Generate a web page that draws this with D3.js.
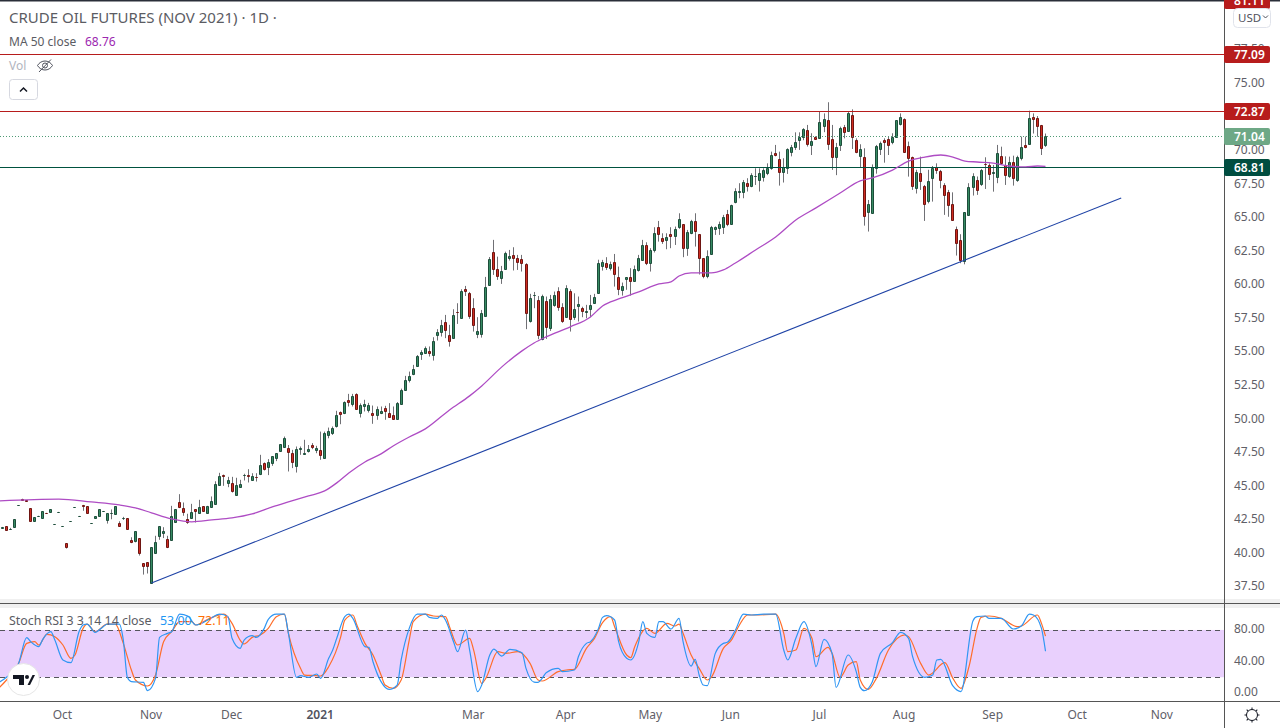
<!DOCTYPE html>
<html>
<head>
<meta charset="utf-8">
<title>Crude Oil Futures</title>
<script src="https://cdn.jsdelivr.net/npm/d3@7"></script>
<style>
  html, body { margin: 0; padding: 0; background: #fff; overflow: hidden; }
  text { font-family: "Noto Sans", sans-serif; }
</style>
</head>
<body>
<svg id="chart" width="1280" height="728"></svg>
<script>
// daily candles, 10 per row
var opens = [
  41.85,41.95,41.73,41.93,43.5,43.98,43.88,43.29,42.37,42.7,
  42.6,42.93,43.04,42.1,43,41.95,40.69,42.32,43.36,42.7,
  43.52,43.44,42.17,42.6,42.7,43.07,42.45,42.9,42.84,42.17,
  42.53,42.55,40.91,40.83,41.06,39.2,39.27,37.71,39.99,41.26,
  41.42,41.02,40.89,42.26,43.74,43.3,42.5,42.6,43.22,42.93,
  43.44,42.97,43.42,43.6,45.01,45.76,45.2,45.16,44.27,44.91,
  45.74,45.76,45.43,45.62,45.81,46.65,46.35,46.65,47.02,47.54,
  47.86,47.81,47.39,46.47,47.67,47.32,47.52,47.99,47.64,47.62,
  47.02,48.71,48.91,49.38,50.45,50.35,51.34,51.07,51.81,50.42,
  50.94,50.62,50.4,50.2,50.35,50.77,50.37,50.22,49.93,51.02,
  52.13,52.85,53.32,53.92,54.81,54.86,54.99,54.67,56.23,56.45,
  57.15,56.18,56,57.92,57.49,59.6,59.31,58.19,56.3,56.3,
  57.64,59.9,62.36,61.09,60.47,61.09,61.96,62.13,61.91,61.84,
  61.46,57.2,59.14,58.78,55.93,58.71,56.7,58.46,59.45,58.26,
  57.57,59.45,57.57,58.39,58.21,57.87,58.11,58.59,59.3,61.32,
  61.54,61.19,61.61,60.55,59.51,60.33,60.5,60.25,61.07,61.79,
  62.88,61.52,62.53,64.22,63.45,63.3,63.7,63.6,64.22,64.44,
  62.66,63.82,64.67,63.7,61.91,60.62,62.19,64.12,64.15,64.27,
  65.19,64.49,66.13,66.83,66.88,67.5,67.32,68.0,67.77,67.97,
  68.29,68.64,69.75,69.28,68.37,68.66,69.85,70.18,70.75,70.92,
  71.44,70.38,70.92,70.84,71.76,72.21,70.77,69.48,70.37,71.71,
  71.41,72.56,70.74,69.55,69.43,65.39,65.31,68.66,70.08,70.7,
  70.77,70.6,70.97,71.94,72.26,70.25,69.43,67.17,68.24,67.27,
  66.2,67.87,68.71,68.39,67.37,66.82,65.93,64.09,63.25,61.71,
  65.16,67.25,67.72,67.42,68.92,68.83,68.29,67.94,69.5,68.88,
  68.07,69.06,67.72,69.36,70.32,70.45,72.41,72.33,71.81,70.35
];
var highs = [
  41.9,41.95,41.83,42.47,43.53,44,43.9,43.29,42.62,42.73,
  43.07,42.95,43.22,42.12,43.02,41.97,40.69,42.34,43.38,42.72,
  43.54,43.44,42.19,42.7,43.22,43.09,42.92,43.2,43.44,42.32,
  42.65,42.55,41.13,41.58,41.06,39.2,39.27,40.39,41.24,41.95,
  41.88,41.24,43.47,43.22,44.34,43.72,42.88,43.62,43.22,43.92,
  43.44,43.47,44.17,45.3,45.93,45.8,45.63,45.63,45.56,45.41,
  45.86,46.2,45.9,45.9,47.27,46.7,46.95,47.17,47.39,48.06,
  48.63,48,47.64,47.89,47.89,48.39,48,48.14,47.94,49,
  49,49.3,49.38,50.55,50.5,51.25,51.81,51.81,51.85,51.1,
  51.37,51.14,50.94,50.87,50.87,50.92,51.12,50.87,51.2,52.2,
  53.15,53.47,53.97,54.7,55.06,55.34,55.34,56.03,56.63,57.32,
  57.69,56.95,58.11,58.56,59.6,59.85,59.4,58.93,57.52,58.06,
  60.52,62,63.28,62.03,61.34,62.4,62.53,62.73,62.16,62.16,
  61.54,59.26,59.4,59.1,59.2,59.06,59.18,59.43,59.75,58.56,
  59.9,59.6,59.3,59.06,58.3,58.44,59.18,59.26,61.8,61.79,
  61.99,61.66,62.23,61.29,60.1,60.5,61.17,61.37,62.16,63.28,
  63.1,62.66,64.22,64.69,63.77,63.77,64.22,64.27,65.26,64.44,
  64.02,64.77,65.26,63.7,61.91,62.5,64.32,64.28,64.64,65.14,
  65.51,65.9,67.12,67.5,67.74,67.87,68.24,68.61,68.61,68.61,
  68.98,69.85,70.35,69.85,69.36,70.1,70.35,71.29,71.29,71.6,
  71.84,71.22,71.0,72.83,72.7,73.53,71.84,70.5,71.71,71.84,
  72.8,73,70.84,70.4,70.1,66.25,68.9,70.35,70.6,70.84,
  70.97,71.22,72.2,72.7,72.33,70.6,69.48,68.5,69.48,67.37,
  68.5,68.78,68.98,68.49,67.5,67,66.82,64.27,63.7,65.34,
  67.5,68.24,68,68.56,69.43,68.98,68.86,70.35,70.22,69.5,
  69.48,69.55,69.55,70.97,70.97,72.9,72.7,72.5,71.84,71.2
];
var lows = [
  41.85,41.7,41.7,41.93,43.5,43.88,43.82,42.37,42.37,42.7,
  42.6,42.9,43.04,42.08,42.98,41.93,40.29,42.3,43.34,42.68,
  43.1,42.97,42.15,42.6,42.7,43.05,42.15,42.47,42.84,41.9,
  42.42,41.7,40.69,40.75,39.77,38.35,38.43,37.71,39.99,40.94,
  41.07,40.32,40.89,42.26,43.3,42.73,42.13,42.6,42.23,42.88,
  43.08,42.97,43.42,43.6,45.01,44.96,44.86,44.46,44.22,44.86,
  45.36,45.21,45.36,45.28,45.76,46.1,45.76,46.45,46.8,47.54,
  47.86,46.03,46.28,45.95,47.27,47.27,47.44,47.69,47.39,46.9,
  46.97,48.5,48.75,49.3,49.55,50.3,50.87,50.87,50.65,50.05,
  50.5,50.42,49.58,49.88,50.3,49.88,50.05,49.88,49.93,51.02,
  52.06,52.66,53.2,53.92,54.34,54.79,54.59,54.29,55.78,56.08,
  55.96,55.33,55.96,57.02,57.49,59.1,57.4,56.45,55.96,56,
  57.64,59.9,60.67,60.3,60,61.09,61.74,61,61.04,60.92,
  56.63,57.12,58.19,55.88,55.8,55.9,56.5,58.3,58,57.1,
  57.57,56.45,57.32,57.2,57.52,57.44,57.52,58.51,59.3,60.99,
  61.04,61,59.8,59.16,59.13,59.56,59.13,60.2,60.92,61.79,
  61.4,60.92,62.34,63.15,62.98,62.58,62.66,62.9,64.1,61.99,
  62.09,63.7,62.78,60.7,60.42,60.42,62.19,63.65,63.65,63.72,
  64.3,64.49,66,66.38,66.38,66.88,67.2,67.37,66.88,67.62,
  68.1,68.5,69.5,67.32,67.55,68.19,69.5,69.98,69.98,70.7,
  70.23,69.6,70.8,70.84,71.3,69.98,68.49,68.1,69.9,70.84,
  71.41,70.05,69.73,68.66,64.34,63.9,65.3,68.21,69.6,69.03,
  69.6,70.4,70.97,71.8,69.8,67.99,67,66.73,67,64.69,
  66,66.13,68.2,67.12,65.14,65,64.7,62.11,61.54,61.46,
  65.1,66.58,66.63,67.3,67.07,67.74,66.87,67.5,68.9,67.37,
  67.9,67.32,67.6,69.2,70.1,70.45,71.2,70.97,69.6,70.2
];
var closes = [
  41.88,41.7,41.75,42.47,43.52,43.9,43.85,42.37,42.62,42.72,
  43.07,42.9,43.22,42.12,43.02,41.97,40.44,42.34,43.38,42.72,
  43.48,42.97,42.19,42.7,43.22,43.09,42.92,42.93,43.44,42,
  42.57,41.78,40.81,41.58,39.99,39.02,39.02,40.39,40.76,41.95,
  41.59,40.37,42.68,43.22,43.37,43.03,42.23,43,43.05,43.37,
  43.1,43.47,43.82,45.09,45.68,45.66,45.38,44.61,45.01,45.11,
  45.76,45.66,45.68,45.6,46.5,46.23,46.72,47.17,47.39,48.06,
  48.53,47.47,46.7,47.69,47.79,47.39,47.69,47.84,47.81,47.29,
  48.88,49.06,49.25,50.25,50.32,51.19,51.24,51.66,50.7,50.99,
  51.07,50.99,50.27,50.67,50.52,50.57,50.12,49.95,51.12,52.08,
  52.83,53.15,53.65,54.62,54.94,55.21,54.89,55.73,56.4,56.92,
  56.53,55.78,57.67,57.87,59.48,59.5,57.64,56.97,56.48,57.82,
  59.75,61.84,61.14,60.62,60.94,62.28,62.08,61.96,61.66,61.59,
  57.82,58.93,59.16,56.23,59.08,56.77,58.86,59.16,58.31,57.27,
  59.68,57.37,58.11,58.49,58.01,58,58.41,59.01,61.54,61.61,
  61.29,61.46,60.77,59.65,59.85,60.5,60.25,61.09,61.91,62.88,
  61.52,62.51,63.77,63.72,63.18,63.48,63.6,64.07,64.82,62.66,
  63.85,64.67,63.97,61.91,60.62,62.06,64.25,64.25,64.44,64.99,
  64.44,65.86,66.9,66.93,67.6,67.32,68.09,68.02,68.24,68.49,
  68.64,69.61,69.63,68.37,68.74,70.03,70.18,70.55,70.95,71.52,
  70.45,70.62,70.82,72.03,72.26,70.4,69.43,70.17,71.59,71.34,
  72.7,70.92,69.8,70.03,65.09,65.93,68.74,70.27,70.47,70.55,
  70.37,70.97,72.18,72.41,69.85,69.4,67.32,68.31,67.69,65.93,
  67.64,68.61,68.51,67.77,66.65,65.91,64.79,63.08,61.79,65.34,
  67.2,68.02,67.02,68.46,68.9,68.21,68.31,69.73,69.03,68.09,
  69.06,67.87,69.43,70.17,70.17,72.33,72.3,71.79,70.1,71.04
];

// MA 50, read at its bends: candle number, value
var maIdx = [-1,14,22,29,33,37,42,47,52,57,62,67,71,76,80,83,86,90,94,97,101,105,111,116,119,124,129,132,135,141,146,149,153,158,163,166,168,171,176,179,182,187,192,197,202,208,213,216,221,225,229,233,236,239,242,246,250,254,257,259];
var maVal = [43.84,43.97,43.76,43.54,43.32,42.95,42.5,42.28,42.42,42.57,42.87,43.39,43.76,44.21,44.58,45.18,45.92,46.74,47.34,47.93,48.6,49.2,50.61,51.66,52.4,53.82,55.01,55.6,56.05,56.8,57.54,58.36,58.88,59.4,60,60.15,60.59,60.82,60.82,61.04,61.56,62.53,63.5,64.76,65.66,66.77,67.67,67.89,68.48,69.15,69.45,69.6,69.45,69.15,69.08,69,68.78,68.71,68.78,68.76];

// Stoch RSI, read at its bends
var kIdx = [-1,1,4,6,7,9,10,12,13,15,17,19,20,21,23,25,26,29,30,31,32,35,36,38,39,41,42,44,46,48,51,54,56,57,59,60,62,63,65,66,68,70,71,73,74,76,78,79,81,82,83,85,86,87,90,91,92,94,96,98,99,101,103,105,106,108,109,110,112,113,115,116,118,119,121,122,124,126,129,130,132,133,134,135,138,139,142,143,145,146,148,149,150,152,153,155,156,158,159,160,162,163,164,166,168,169,171,172,173,174,175,177,179,180,182,184,186,189,192,194,195,197,199,201,202,204,206,207,210,212,213,214,216,218,221,223,225,226,229,231,232,233,236,238,241,242,244,245,248,251,253,255,256,258,259];
var kVal = [13.1,19.9,37.6,70.2,65.1,58.8,68.1,77.8,67.2,41.9,38.5,77.8,86.3,87.5,77,84.2,87.5,87.5,67.2,19.9,14.4,13.5,2.9,18.6,70.6,75.7,77.8,100,97.7,86.3,92.6,100,96.9,69.4,56.7,67.2,72.7,70.6,82,93.5,100,100,75.7,19.9,22,19.9,24.1,18.6,44,54.5,69.4,96.9,100,94.7,58.8,57.9,39.7,14.4,4.6,10.1,41.9,82,100,100,96,94.7,99,92.6,65.1,52.4,79.9,54.5,1.7,10.1,48.2,55.8,46.9,55.4,51.2,31.3,13.9,13.5,18.6,25.8,31.3,27.1,29.2,46.1,63,65.1,82,96,98.1,92.6,65.1,44,41.9,65.1,90.5,75.7,70.6,90.5,90.5,81.2,94.7,65.1,34.2,42.7,22.8,10.1,9.3,50.3,63,64.3,79.9,100,99,100,100,54.5,41.9,69.4,90.5,60.9,33.4,68.1,50.3,7.2,48.2,27.1,7.2,2.9,14.4,50.3,63.9,77,69.4,46.1,19.9,22.8,41.9,42.7,8.9,1.7,91.8,96.9,97.7,94.7,94.7,81.2,85,100,99,82,53];
var dIdx = [-1,1,4,6,8,9,11,13,15,17,18,20,21,23,26,28,30,32,33,36,38,40,42,44,47,48,51,55,57,59,60,62,64,66,68,70,71,74,75,78,79,81,84,85,87,88,90,92,94,95,97,99,101,102,105,107,110,111,113,116,117,119,120,123,125,128,131,133,134,138,140,142,145,147,149,151,152,155,156,157,160,162,165,167,168,169,171,173,175,176,179,181,183,185,187,192,194,195,197,199,201,202,205,206,208,210,212,213,215,217,220,224,225,228,230,234,236,238,240,242,243,245,248,252,253,257,258,259];
var dVal = [5.9,16.5,37.6,63,65.1,60.9,74.4,71.5,60.9,44,48.2,82,87.5,77.8,87.5,87.5,63,29.2,16.5,8.9,22.8,65.1,77.8,90.5,90.5,86.3,93.5,100,88.4,67.2,62.2,70.6,73.6,82,96.9,100,75.7,31.3,22.8,22,21.6,33.4,71.5,92.6,99,86.3,63,48.2,22.8,10.1,5.9,16.5,67.2,90.5,100,97.7,96.9,84.2,60.9,69.4,54.5,12.3,18.6,52.4,50.3,52.4,37.6,16.5,15.2,27.1,29.2,30,56.7,69.4,89.2,96.9,84.2,48.2,44.8,58.8,82,75.7,88.4,85,87.5,75.7,48.2,31.3,16.5,19.9,56.7,67.2,86.3,99,99,100,75.7,52.4,54.5,82,69.4,46.1,57.9,50.3,19.9,35.5,39.7,16.5,4.6,18.6,54.5,73.6,71.5,37.6,22.8,38.5,18.6,5.9,33.4,82,96,97.7,94.7,84.2,85,99,88.4,72.11];

// trend line and drawn levels
var trendIdx = [37, 277.8];
var trendVal = [37.73, 66.4];
var levels = [77.09, 72.87, 68.7];
var levelColors = ["#b71c1c", "#b71c1c", "#00523f"];
var lastPrice = 71.04;

var priceTicks = [37.5,40,42.5,45,47.5,50,52.5,55,57.5,60,62.5,65,67.5,70,72.5,75,77.5];
var stochTicks = [0,40,80];
var monthIdx = [15,37,57,79,117,140,161,181,203,224,246,267,288];
var monthLabels = ["Oct","Nov","Dec","2021","Mar","Apr","May","Jun","Jul","Aug","Sep","Oct","Nov"];

var tags = [
  {price: 81.11, label: "81.11", color: "#b71c1c"},
  {price: 77.09, label: "77.09", color: "#b71c1c"},
  {price: 72.87, label: "72.87", color: "#b71c1c"},
  {price: 71.04, label: "71.04", color: "#6ea886"},
  {price: 68.7, label: "68.81", color: "#004d40"}
];

var svg = d3.select("#chart");
var axisX = 1224;

var x = d3.scaleLinear().domain([0, 259]).range([2.5, 1045.5]);
var y = d3.scaleLinear().domain([37.5, 75]).range([586, 82.5]);
var s = d3.scaleLinear().domain([0, 100]).range([693, 614.2]);

var defs = svg.append("defs");
defs.append("clipPath").attr("id", "mainClip").append("rect").attr("width", axisX).attr("height", 599);
defs.append("clipPath").attr("id", "stochClip").append("rect").attr("y", 608).attr("width", axisX).attr("height", 93);
defs.append("clipPath").attr("id", "tagClip").append("rect").attr("x", axisX).attr("width", 56).attr("height", 599);

// pane separator
svg.append("rect").attr("x", 0).attr("y", 599).attr("width", 1280).attr("height", 9).attr("fill", "#f0f0f0");

// price pane
var main = svg.append("g").attr("clip-path", "url(#mainClip)");

// candles
var candles = main.selectAll(".candle").data(d3.range(opens.length)).enter().append("g").attr("class", "candle");

candles.append("line")
  .attr("x1", function (i) { return Math.floor(x(i)) + 0.5; })
  .attr("x2", function (i) { return Math.floor(x(i)) + 0.5; })
  .attr("y1", function (i) { return y(highs[i]); })
  .attr("y2", function (i) { return y(lows[i]); })
  .attr("stroke", "#707075").attr("stroke-width", 1);

// a path, so a flat candle still shows as a small dash
candles.append("path")
  .attr("d", function (i) {
    var top = Math.round(y(Math.max(opens[i], closes[i]))) + 0.5;
    var bottom = Math.round(y(Math.min(opens[i], closes[i]))) + 0.5;
    var left = Math.floor(x(i)) - 0.5;
    return "M" + left + "," + top + "h2V" + bottom + "h-2Z";
  })
  .attr("fill", function (i) { return closes[i] >= opens[i] ? "#378b63" : "#d02c20"; })
  .attr("stroke", function (i) { return closes[i] >= opens[i] ? "#1d4d3a" : "#6e1512"; })
  .attr("stroke-width", 1);

main.selectAll(".level").data(levels).enter().append("line")
  .attr("class", "level")
  .attr("x1", 0).attr("x2", axisX)
  .attr("y1", function (d) { return Math.round(y(d)) + 0.5; })
  .attr("y2", function (d) { return Math.round(y(d)) + 0.5; })
  .attr("stroke", function (d, i) { return levelColors[i]; })
  .attr("stroke-width", 1);

main.append("line")
  .attr("x1", 0).attr("x2", axisX)
  .attr("y1", Math.round(y(lastPrice)) + 0.5).attr("y2", Math.round(y(lastPrice)) + 0.5)
  .attr("stroke", "#4f9a75").attr("stroke-width", 1).attr("stroke-dasharray", "1,2");

var maLine = d3.line().curve(d3.curveMonotoneX).x(function (d, i) { return x(maIdx[i]); }).y(function (d) { return y(d); });
main.append("path").datum(maVal)
  .attr("d", maLine).attr("fill", "none").attr("stroke", "#ae4cc4").attr("stroke-width", 1.3);

var trendLine = d3.line().x(function (d, i) { return x(trendIdx[i]); }).y(function (d) { return y(d); });
main.append("path").datum(trendVal)
  .attr("d", trendLine).attr("fill", "none").attr("stroke", "#1f43a6").attr("stroke-width", 1.1);

// stoch pane
var stoch = svg.append("g").attr("clip-path", "url(#stochClip)");
stoch.append("rect")
  .attr("x", 0).attr("width", axisX)
  .attr("y", s(80)).attr("height", s(20) - s(80))
  .attr("fill", "#e9d0fd");
[80, 20].forEach(function (v) {
  stoch.append("line")
    .attr("x1", 0).attr("x2", axisX)
    .attr("y1", Math.round(s(v)) + 0.5).attr("y2", Math.round(s(v)) + 0.5)
    .attr("stroke", "#55555c").attr("stroke-dasharray", "5,4");
});
var kLine = d3.line().curve(d3.curveMonotoneX).x(function (d, i) { return x(kIdx[i]); }).y(function (d) { return s(d); });
var dLine = d3.line().curve(d3.curveMonotoneX).x(function (d, i) { return x(dIdx[i]); }).y(function (d) { return s(d); });
stoch.append("path").datum(dVal).attr("d", dLine).attr("fill", "none").attr("stroke", "#ff6d2a").attr("stroke-width", 1.2);
stoch.append("path").datum(kVal).attr("d", kLine).attr("fill", "none").attr("stroke", "#2f96f3").attr("stroke-width", 1.2);

// frame lines
svg.append("rect").attr("width", 1280).attr("height", 1.5).attr("fill", "#2a2e39");
[603.5, 701.5].forEach(function (yy) {
  svg.append("line").attr("x1", 0).attr("x2", 1280).attr("y1", yy).attr("y2", yy).attr("stroke", "#555");
});
svg.append("line").attr("x1", axisX + 0.5).attr("x2", axisX + 0.5).attr("y1", 0).attr("y2", 728).attr("stroke", "#555");

// axes
var priceAxis = svg.append("g").attr("transform", "translate(" + axisX + ",0)")
  .call(d3.axisRight(y).tickValues(priceTicks).tickFormat(d3.format(".2f")).tickSize(0).tickPadding(10));
var stochAxis = svg.append("g").attr("transform", "translate(" + axisX + ",-1)")
  .call(d3.axisRight(s).tickValues(stochTicks).tickFormat(d3.format(".2f")).tickSize(0).tickPadding(10));
var timeAxis = svg.append("g").attr("transform", "translate(-1,702)")
  .call(d3.axisBottom(x).tickValues(monthIdx).tickFormat(function (d, i) { return monthLabels[i]; }).tickSize(0).tickPadding(8));
[priceAxis, stochAxis, timeAxis].forEach(function (a) {
  a.select(".domain").remove();
  a.selectAll("text").attr("fill", "#5f6068").style("font-size", "12px").style("font-family", '"Noto Sans", sans-serif');
});
timeAxis.selectAll("text").filter(function (d, i) { return monthLabels[i] === "2021"; })
  .attr("fill", "#50535e").style("font-weight", "600");

// price tags
var tagGroup = svg.append("g").attr("clip-path", "url(#tagClip)");
var tag = tagGroup.selectAll(".tag").data(tags).enter().append("g").attr("class", "tag");
tag.append("rect")
  .attr("x", axisX).attr("width", 46).attr("height", 17).attr("rx", 2)
  .attr("y", function (d) { return Math.round(y(d.price)) - 8; })
  .attr("fill", function (d) { return d.color; });
tag.append("text")
  .attr("x", axisX + 10)
  .attr("y", function (d) { return Math.round(y(d.price)) + 4.5; })
  .attr("fill", "#fff").style("font-size", "12px").style("font-weight", "600")
  .text(function (d) { return d.label; });

// currency button
svg.append("rect").attr("x", 1233.5).attr("y", 8.5).attr("width", 37).attr("height", 19).attr("rx", 4)
  .attr("fill", "#fff").attr("stroke", "#e0e3eb");
svg.append("text").attr("x", 1238).attr("y", 21.5).attr("fill", "#50535e").style("font-size", "11.5px").text("USD");
svg.append("path").attr("d", "M1263 15.5l2.5 2.5 2.5-2.5").attr("fill", "none").attr("stroke", "#50535e");

// legends
var legend = svg.append("g");
legend.append("text").attr("x", 9).attr("y", 22.5).attr("fill", "#5b5c63").style("font-size", "15px")
  .text("CRUDE OIL FUTURES (NOV 2021) · 1D ·");
legend.append("text").attr("x", 9).attr("y", 46).attr("fill", "#5b5c63").style("font-size", "12px").text("MA 50 close");
legend.append("text").attr("x", 85).attr("y", 46).attr("fill", "#9c27b0").style("font-size", "12px").text("68.76");
legend.append("text").attr("x", 9).attr("y", 70).attr("fill", "#b2b5be").style("font-size", "12px").text("Vol");

// crossed eye next to Vol
legend.append("path").attr("d", "M37.5 65.5c3.5-6 11.5-6 15 0c-3.5 6-11.5 6-15 0z").attr("fill", "none").attr("stroke", "#50535e");
legend.append("circle").attr("cx", 45).attr("cy", 65.5).attr("r", 2.5).attr("fill", "none").attr("stroke", "#50535e");
legend.append("line").attr("x1", 39).attr("y1", 72).attr("x2", 51).attr("y2", 59.5).attr("stroke", "#50535e");

// collapse button
legend.append("rect").attr("x", 9.5).attr("y", 79.5).attr("width", 28).attr("height", 20).attr("rx", 3)
  .attr("fill", "#fff").attr("stroke", "#d6d8e0");
legend.append("path").attr("d", "M20 91.5l3.5-3.5 3.5 3.5").attr("fill", "none").attr("stroke", "#131722").attr("stroke-width", 1.5);

legend.append("text").attr("x", 9).attr("y", 625).attr("fill", "#5b5c63").style("font-size", "12.4px").text("Stoch RSI 3 3 14 14 close");
legend.append("text").attr("x", 160).attr("y", 625).attr("fill", "#2196f3").style("font-size", "12.4px").text("53.00");
legend.append("text").attr("x", 198).attr("y", 625).attr("fill", "#ff6d00").style("font-size", "12.4px").text("72.11");

// logo badge
var logo = svg.append("g");
logo.append("circle").attr("cx", 23.5).attr("cy", 679.5).attr("r", 16).attr("fill", "#fff").attr("stroke", "#e6e6e6");
logo.append("path").attr("d", "M13 675h11v10h-5v-6h-6z M27.5 685l5-10h2.5l-5 10z").attr("fill", "#131722");
logo.append("circle").attr("cx", 27).attr("cy", 677).attr("r", 2).attr("fill", "#131722");

// settings icon
var gear = svg.append("g").attr("transform", "translate(1252,715)");
gear.append("circle").attr("r", 5.5).attr("fill", "none").attr("stroke", "#131722");
d3.range(0, 360, 45).forEach(function (a) {
  gear.append("line").attr("x1", 5.5).attr("x2", 7.5).attr("transform", "rotate(" + a + ")").attr("stroke", "#131722");
});
</script>
</body>
</html>
